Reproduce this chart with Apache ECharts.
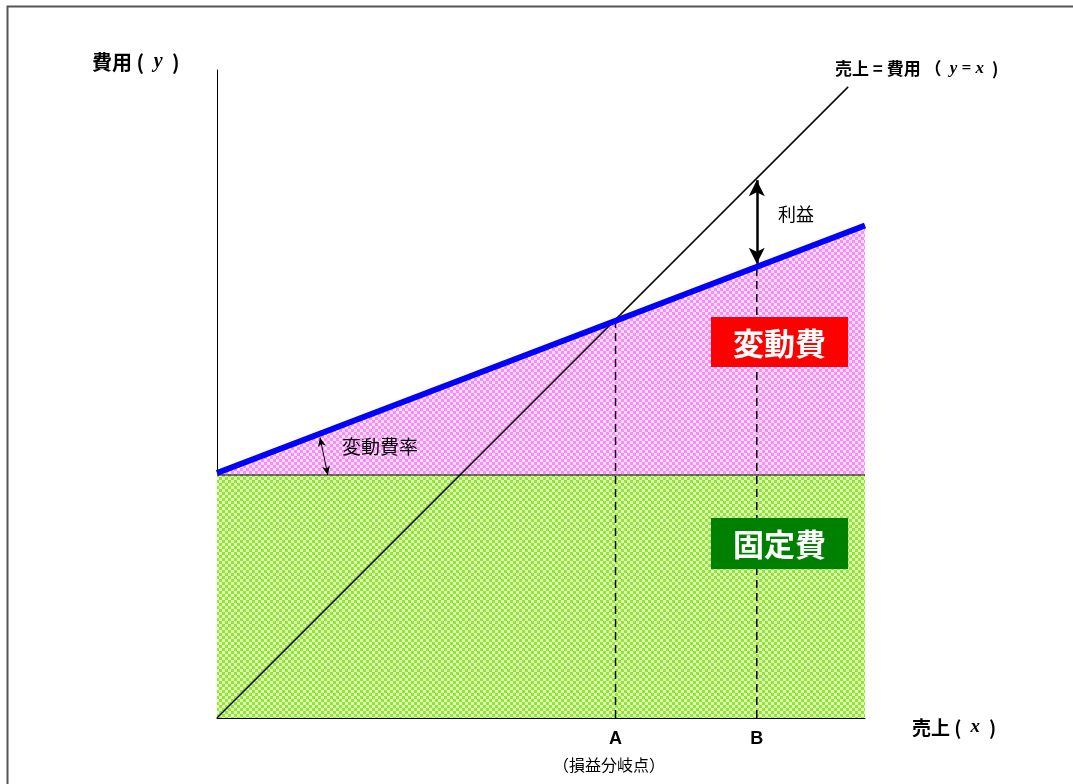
<!DOCTYPE html>
<html><head><meta charset="utf-8">
<script src="https://cdn.jsdelivr.net/npm/echarts@6/dist/echarts.min.js"></script>
<style>html,body{margin:0;padding:0;background:#fff}#c{width:1073px;height:784px}</style>
</head><body><div id="c"></div>
<script>
// ---- data (x = sales, y = cost, both on a 0–100 scale) ----
const fixedCost = 37.5;
const costLine = [[0, 37.8], [100, 76]];       // total cost = fixed + variable
const salesLine = [[0, 0], [97.4, 97.4]];      // y = x
const pointA = 61.5;                           // break-even sales
const pointB = 83.3;                           // example sales level
const costAtB = 69.7;
const costAtA = 61.5;
const rateArrow = [[15.9, 43.3], [17.1, 37.5]];
const tickLabels = ['A', 'B'];

const FONT = '"Noto Sans CJK JP", "Noto Sans", sans-serif';

function checker(c1, c2, s) {
  const cv = document.createElement('canvas');
  cv.width = s * 2; cv.height = s * 2;
  const g = cv.getContext('2d');
  g.fillStyle = c2; g.fillRect(0, 0, s * 2, s * 2);
  g.fillStyle = c1;
  g.fillRect(0, 0, s, s); g.fillRect(s, s, s, s);
  return cv;
}
const pinkPat = { image: checker('#ff88ff', '#ffe2ff', 3), repeat: 'repeat' };
const greenPat = { image: checker('#8fe82a', '#e2ffc4', 3), repeat: 'repeat' };

const chart = echarts.init(document.getElementById('c'), null, { renderer: 'canvas' });
const GL = 217, GT = 70, GW = 648, GH = 648;

chart.setOption({
  animation: false,
  grid: { left: GL, top: GT, width: GW, height: GH, show: false },
  xAxis: { type: 'value', min: 0, max: 100, splitLine: { show: false },
    axisLabel: { show: false }, axisTick: { show: false },
    axisLine: { show: true, onZero: false, lineStyle: { color: '#000', width: 1 } } },
  yAxis: { type: 'value', min: 0, max: 100, splitLine: { show: false },
    axisLabel: { show: false }, axisTick: { show: false },
    axisLine: { show: true, lineStyle: { color: '#000', width: 1 } } },
  series: [
    { type: 'line', data: costLine, symbol: 'none', z: 1,
      lineStyle: { color: '#000', width: 1 }, areaStyle: { color: pinkPat, opacity: 1 } },
    { type: 'line', data: [[0, fixedCost], [100, fixedCost]], symbol: 'none', z: 2,
      lineStyle: { color: '#000', width: 1 }, areaStyle: { color: greenPat, opacity: 1 } },
    { type: 'line', data: [[pointA, 0], [pointA, costAtA]], symbol: 'none', z: 3,
      lineStyle: { color: '#000', width: 1.5, type: [8, 5] } },
    { type: 'line', data: [[pointB, 0], [pointB, costAtB]], symbol: 'none', z: 3,
      lineStyle: { color: '#000', width: 1.5, type: [8, 5] } },
    { type: 'line', data: salesLine, symbol: 'none', z: 4,
      lineStyle: { color: '#000', width: 1.5 } },
    { type: 'line', data: costLine, symbol: 'none', z: 5,
      lineStyle: { color: '#0000ff', width: 6 } },
    { type: 'line', data: [], z: 6,
      markLine: { silent: true, symbol: ['arrow', 'arrow'], symbolSize: [12, 16], label: { show: false },
        lineStyle: { color: '#000', width: 2.5, type: 'solid' },
        data: [[{ coord: [pointB, costAtB + 0.4] }, { coord: [pointB, pointB - 0.3] }]] } },
    { type: 'line', data: [], z: 6,
      markLine: { silent: true, symbol: ['arrow', 'arrow'], symbolSize: [6, 9], label: { show: false },
        lineStyle: { color: '#000', width: 1, type: 'solid' },
        data: [[{ coord: rateArrow[0] }, { coord: rateArrow[1] }]] } }
  ]
});

const px = (x, y) => chart.convertToPixel({ gridIndex: 0 }, [x, y]);
const pA = px(pointA, 0), pB = px(pointB, 0);
const it = (s) => ({ fontFamily: '"Liberation Serif", serif', fontStyle: 'italic', fontWeight: 'bold', fontSize: s, fill: '#000' });
const jp = (s) => ({ fontFamily: FONT, fontWeight: 'bold', fontSize: s, fill: '#000' });

function boxed(x, y, w, h, bg, txt) {
  return [
    { type: 'rect', left: x, top: y, shape: { width: w, height: h }, style: { fill: bg }, z: 100 },
    { type: 'text', x: x + w / 2, y: y + h / 2 + 1, z: 101,
      style: { text: txt, fill: '#fff', font: 'bold 31px ' + FONT, align: 'center', verticalAlign: 'middle',
        textShadowColor: '#444', textShadowOffsetX: 2, textShadowOffsetY: 2, textShadowBlur: 0 } }
  ];
}

chart.setOption({
  graphic: [
    { type: 'polyline', z: 100, shape: { points: [[7.5, 790], [7.5, 6.5], [1080, 6.5]] }, style: { stroke: '#555', lineWidth: 2, fill: null } },
    { type: 'text', z: 100, left: 92, top: 52, style: { rich: { j: jp(20), i: it(20) }, text: '{j|費用 ( }{i| y }{j| )}', font: 'bold 20px ' + FONT } },
    { type: 'text', z: 100, left: 835, top: 60, style: { rich: { j: jp(17), i: it(17) }, text: '{j|売上 = 費用 （ }{i| y = x }{j| )}', font: 'bold 17px ' + FONT } },
    { type: 'text', z: 100, left: 912, top: 718, style: { rich: { j: jp(19), i: it(19) }, text: '{j|売上 ( }{i| x }{j| )}', font: 'bold 19px ' + FONT } },
    { type: 'text', z: 100, x: pA[0], y: 739, style: { text: tickLabels[0], font: 'bold 18px "Liberation Sans", Arial, sans-serif', fill: '#000', align: 'center', verticalAlign: 'middle' } },
    { type: 'text', z: 100, x: pB[0], y: 739, style: { text: tickLabels[1], font: 'bold 18px "Liberation Sans", Arial, sans-serif', fill: '#000', align: 'center', verticalAlign: 'middle' } },
    { type: 'text', z: 100, x: 609, y: 765, style: { text: '（損益分岐点）', font: '16px ' + FONT, fill: '#000', align: 'center', verticalAlign: 'middle' } },
    { type: 'text', z: 100, left: 778, top: 205, style: { text: '利益', font: '18px ' + FONT, fill: '#000' } },
    { type: 'text', z: 100, left: 342, top: 437, style: { text: '変動費率', font: '19px ' + FONT, fill: '#000' } },
    ...boxed(711, 317, 137, 50, '#ff0000', '変動費'),
    ...boxed(711, 518, 137, 51, '#008000', '固定費')
  ]
});
</script></body></html>
